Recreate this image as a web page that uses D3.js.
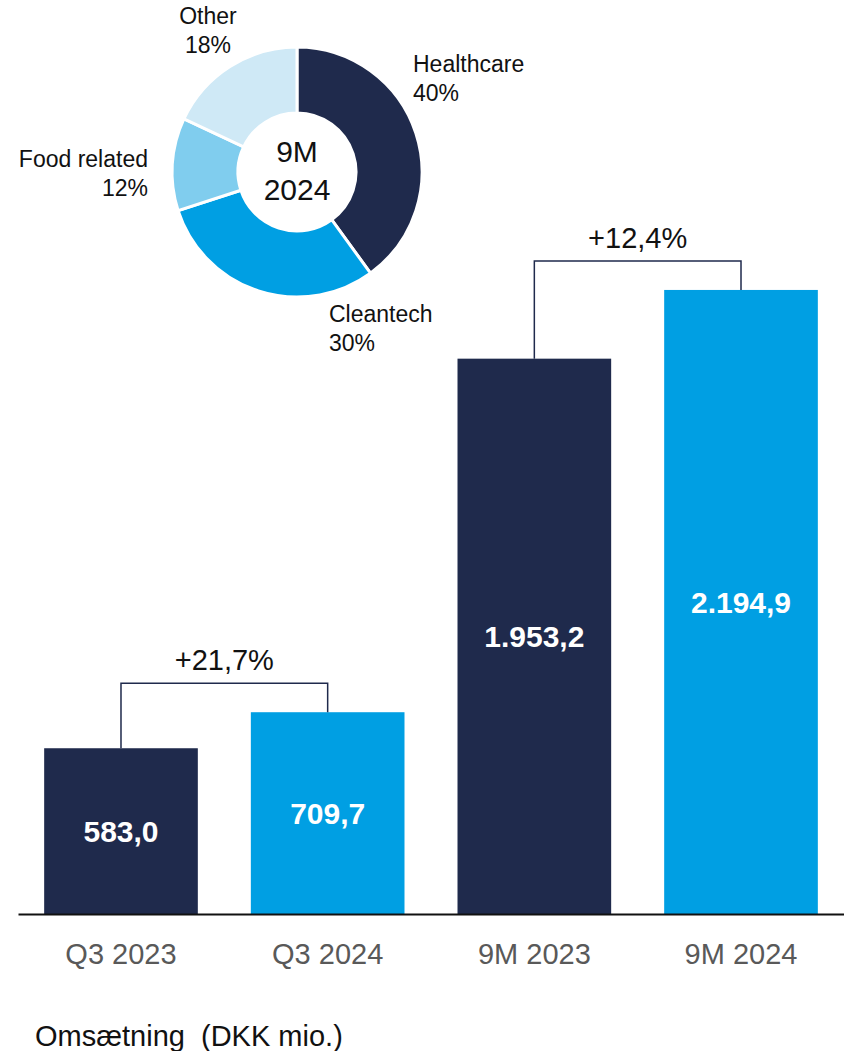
<!DOCTYPE html>
<html>
<head>
<meta charset="utf-8">
<script src="https://cdn.jsdelivr.net/npm/d3@7"></script>
<style>
  body { margin: 0; background: #fff; }
  svg { display: block; font-family: "Liberation Sans", Arial, sans-serif; }
</style>
</head>
<body>
<svg id="chart" width="844" height="1051"></svg>
<script>
// bar data
const periods = ["Q3 2023", "Q3 2024", "9M 2023", "9M 2024"];
const revenue = [583.0, 709.7, 1953.2, 2194.9];
const valueLabels = ["583,0", "709,7", "1.953,2", "2.194,9"];
const growthPairs = [[0, 1], [2, 3]];
const growthLabels = ["+21,7%", "+12,4%"];

// donut data
const segments = ["Healthcare", "Cleantech", "Food related", "Other"];
const shares = [40, 30, 12, 18];

const navy = "#1F2A4C", blue = "#009FE3";
const barColors = [navy, blue, navy, blue];
const segColors = [navy, blue, "#80CDEE", "#CFE9F6"];

const svg = d3.select("#chart");

const x = d3.scaleBand()
  .domain(periods)
  .range([18, 844])
  .paddingInner(0.2565)
  .paddingOuter(0.1266);

const y = d3.scaleLinear()
  .domain([0, 2200])
  .range([914, 288.5]);

// bars
svg.append("g").selectAll("rect")
  .data(periods)
  .join("rect")
  .attr("x", d => x(d))
  .attr("y", (d, i) => y(revenue[i]))
  .attr("width", x.bandwidth())
  .attr("height", (d, i) => y(0) - y(revenue[i]))
  .attr("fill", (d, i) => barColors[i]);

// value labels in middle of bars
svg.append("g").selectAll("text")
  .data(periods)
  .join("text")
  .attr("x", d => x(d) + x.bandwidth() / 2)
  .attr("y", (d, i) => (y(revenue[i]) + y(0)) / 2)
  .attr("dy", "0.36em")
  .attr("text-anchor", "middle")
  .attr("fill", "#fff")
  .attr("font-weight", "bold")
  .attr("font-size", 30)
  .text((d, i) => valueLabels[i]);

// axis
const xAxis = svg.append("g")
  .attr("transform", `translate(0,${y(0)})`)
  .call(d3.axisBottom(x).tickSize(0).tickPadding(29));
xAxis.select(".domain").attr("stroke", "#111").attr("stroke-width", 2);
xAxis.selectAll("text")
  .attr("font-size", 29)
  .attr("fill", "#595959")
  .attr("font-family", "'Liberation Sans', Arial, sans-serif")
  .attr("dy", "0.71em");

// growth brackets
growthPairs.forEach(([a, b], k) => {
  const xa = x(periods[a]) + x.bandwidth() / 2;
  const xb = x(periods[b]) + x.bandwidth() / 2;
  const ya = y(revenue[a]), yb = y(revenue[b]);
  const top = Math.min(ya, yb) - 29;
  svg.append("path")
    .attr("d", `M${xa},${ya}V${top}H${xb}V${yb}`)
    .attr("fill", "none")
    .attr("stroke", navy)
    .attr("stroke-width", 1.5);
  svg.append("text")
    .attr("x", (xa + xb) / 2)
    .attr("y", top - 13)
    .attr("text-anchor", "middle")
    .attr("font-size", 29)
    .attr("fill", "#111")
    .text(growthLabels[k]);
});

// donut
const cx = 297, cy = 172;
const pie = d3.pie().sort(null).value(d => d);
const arc = d3.arc().innerRadius(59).outerRadius(125);
const donut = svg.append("g").attr("transform", `translate(${cx},${cy})`);
donut.selectAll("path")
  .data(pie(shares))
  .join("path")
  .attr("d", arc)
  .attr("fill", (d, i) => segColors[i])
  .attr("stroke", "#fff")
  .attr("stroke-width", 3);

donut.append("text")
  .attr("text-anchor", "middle")
  .attr("font-size", 30)
  .attr("fill", "#111")
  .selectAll("tspan")
  .data(["9M", "2024"])
  .join("tspan")
  .attr("x", 0)
  .attr("y", (d, i) => -10 + i * 38)
  .text(d => d);

// donut labels
const labelPos = [
  { x: 413, y: 72, anchor: "start" },
  { x: 329, y: 322, anchor: "start" },
  { x: 148, y: 167, anchor: "end" },
  { x: 208, y: 24, anchor: "middle" }
];
segments.forEach((s, i) => {
  svg.append("text")
    .attr("text-anchor", labelPos[i].anchor)
    .attr("font-size", 23)
    .attr("fill", "#111")
    .selectAll("tspan")
    .data([s, shares[i] + "%"])
    .join("tspan")
    .attr("x", labelPos[i].x)
    .attr("y", (d, j) => labelPos[i].y + j * 29)
    .text(d => d);
});

// footer
svg.append("text")
  .attr("x", 35)
  .attr("y", 1046)
  .attr("font-size", 29)
  .attr("fill", "#111")
  .attr("xml:space", "preserve")
  .text("Omsætning  (DKK mio.)");
</script>
</body>
</html>
